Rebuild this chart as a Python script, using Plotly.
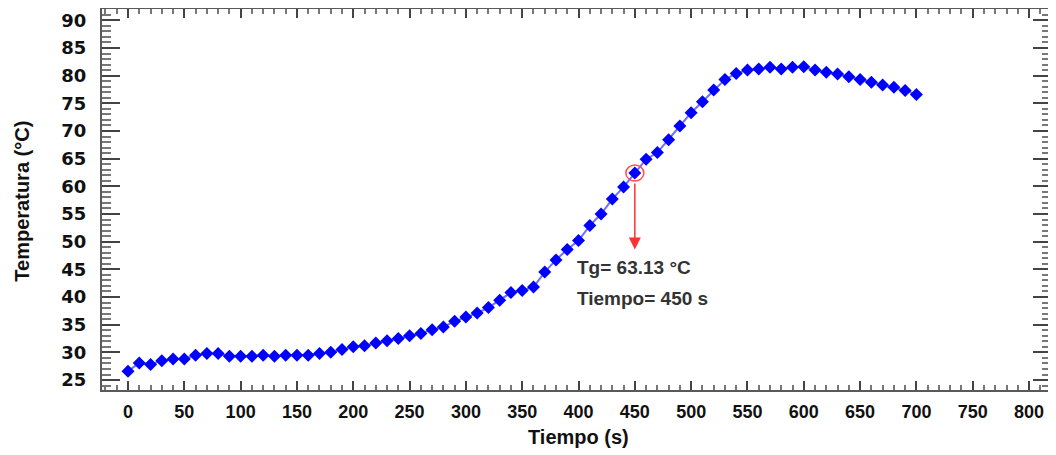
import plotly.graph_objects as go

# Messdaten: Zeit (s) und Temperatur (°C)
tiempo = [0, 10, 20, 30, 40, 50, 60, 70, 80, 90,
          100, 110, 120, 130, 140, 150, 160, 170, 180, 190,
          200, 210, 220, 230, 240, 250, 260, 270, 280, 290,
          300, 310, 320, 330, 340, 350, 360, 370, 380, 390,
          400, 410, 420, 430, 440, 450, 460, 470, 480, 490,
          500, 510, 520, 530, 540, 550, 560, 570, 580, 590,
          600, 610, 620, 630, 640, 650, 660, 670, 680, 690,
          700]
temperatura = [26.6, 28.1, 27.8, 28.5, 28.8, 28.8, 29.5, 29.8, 29.8, 29.3,
               29.3, 29.3, 29.5, 29.3, 29.5, 29.5, 29.5, 29.8, 30.0, 30.5,
               31.0, 31.2, 31.7, 32.1, 32.5, 33.0, 33.4, 34.1, 34.6, 35.6,
               36.4, 37.1, 38.1, 39.4, 40.8, 41.2, 41.8, 44.5, 46.7, 48.6,
               50.2, 52.9, 55.0, 57.7, 59.9, 62.4, 64.9, 66.1, 68.4, 70.9,
               73.3, 75.3, 77.4, 79.3, 80.4, 81.0, 81.2, 81.5, 81.2, 81.5,
               81.6, 81.0, 80.6, 80.3, 79.8, 79.3, 78.8, 78.3, 77.9, 77.3,
               76.6]

# Glasübergang
tg_tiempo = 450
tg_valor = 63.13
tg_punto = temperatura[tiempo.index(tg_tiempo)]

x_ticks = [0, 50, 100, 150, 200, 250, 300, 350, 400, 450, 500, 550, 600, 650, 700, 750, 800]
y_ticks = [25, 30, 35, 40, 45, 50, 55, 60, 65, 70, 75, 80, 85, 90]

fig = go.Figure()

fig.add_trace(go.Scatter(
    x=tiempo,
    y=temperatura,
    mode="lines+markers",
    line=dict(color="#7070ff", width=2),
    marker=dict(symbol="diamond", size=10, color="#0000ff"),
    showlegend=False
))

# roter Kreis um den Tg-Punkt
fig.add_shape(
    type="circle",
    xref="x", yref="y",
    xsizemode="pixel", ysizemode="pixel",
    xanchor=tg_tiempo, yanchor=tg_punto,
    x0=-9, x1=9, y0=-8, y1=8,
    line=dict(color="#ff5050", width=1.5)
)

# Pfeil nach unten
fig.add_annotation(
    x=tg_tiempo, y=48.6,
    ax=tg_tiempo, ay=tg_punto - 1.6,
    xref="x", yref="y", axref="x", ayref="y",
    text="", showarrow=True,
    arrowhead=2, arrowsize=1.6, arrowwidth=1.5,
    arrowcolor="#ff3030"
)

label_font = dict(family="Liberation Sans, Arial, sans-serif", size=19, color="#333333", weight="bold")
fig.add_annotation(
    x=397, y=45.4, xref="x", yref="y",
    text=f"Tg= {tg_valor:.2f} °C", showarrow=False,
    xanchor="left", yanchor="middle", font=label_font
)
fig.add_annotation(
    x=397, y=39.8, xref="x", yref="y",
    text=f"Tiempo= {tg_tiempo} s", showarrow=False,
    xanchor="left", yanchor="middle", font=label_font
)

# Achsentitel
title_font = dict(family="Liberation Sans, Arial, sans-serif", size=20, color="#111111", weight="bold")
fig.add_annotation(
    x=0.5016, y=-0.1234, xref="paper", yref="paper",
    text="Tiempo (s)", showarrow=False,
    xanchor="center", yanchor="middle", font=title_font
)
fig.add_annotation(
    x=-0.0843, y=0.497, xref="paper", yref="paper",
    text="Temperatura (°C)", showarrow=False, textangle=-90,
    xanchor="center", yanchor="middle", font=title_font
)

frame_color = "#5a5a5a"

# Seite hat 8 px Rand, daher etwas kleiner
fig.update_layout(
    width=1048,
    height=447,
    margin=dict(l=94, r=5, t=1, b=65),
    plot_bgcolor="white",
    paper_bgcolor="white",
    xaxis=dict(
        range=[-23.1, 819.5],
        tickvals=x_ticks,
        ticktext=[str(v) for v in x_ticks],
        ticks="inside", ticklen=9, tickwidth=2, tickcolor="#444444",
        minor=dict(dtick=10, tick0=0, ticks="inside", ticklen=5, tickwidth=2, tickcolor="#777777"),
        showline=True, linecolor=frame_color, linewidth=2, mirror="allticks",
        showgrid=False, zeroline=False, automargin=False,
        tickfont=dict(family="Liberation Sans Narrow, Arial Narrow, Liberation Sans, sans-serif",
                      size=18, color="#111111", weight="bold"),
        ticklabelstandoff=4
    ),
    yaxis=dict(
        range=[23.2, 92.04],
        tickvals=y_ticks,
        ticktext=[str(v) for v in y_ticks],
        ticks="inside", ticklen=18, tickwidth=2, tickcolor="#444444",
        minor=dict(dtick=1, tick0=0, ticks="inside", ticklen=9, tickwidth=2, tickcolor="#777777"),
        showline=True, linecolor=frame_color, linewidth=2, mirror="allticks",
        showgrid=False, zeroline=False, automargin=False,
        tickfont=dict(family="DejaVu Sans, sans-serif", size=18, color="#111111", weight="bold"),
        ticklabelstandoff=10
    )
)

fig.write_html("out.html")
